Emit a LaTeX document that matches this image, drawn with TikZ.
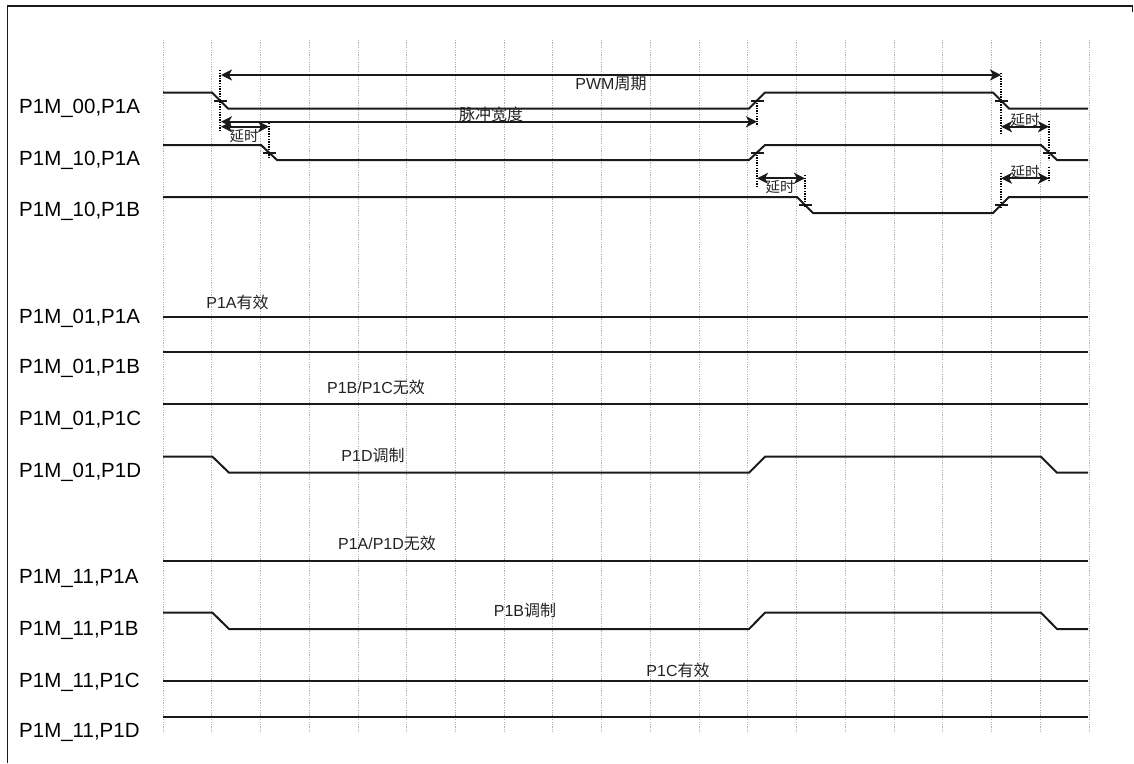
\documentclass[tikz,border=0pt]{standalone}
\usepackage{fontspec}
\setmainfont{Liberation Sans}
\newfontfamily\cjk{Noto Sans CJK SC}
\usetikzlibrary{arrows.meta}
\definecolor{sig}{HTML}{1A1A1A}
\definecolor{gridc}{HTML}{B4B4B4}
\definecolor{txt}{HTML}{222222}
\begin{document}
\begin{tikzpicture}[x=1pt,y=-1pt,
  wave/.style={draw=sig,line width=2pt,line join=miter},
  gridline/.style={draw=gridc,line width=0.9pt,dash pattern=on 1.2pt off 1.2pt},
  marker/.style={draw=black,line width=1.6pt,dash pattern=on 1.4pt off 1.2pt},
  tickmark/.style={draw=sig,line width=2pt},
  dim/.style={draw=sig,line width=2pt,{Stealth[length=11pt,width=11pt,inset=3pt]}-{Stealth[length=11pt,width=11pt,inset=3pt]}},
  rowlabel/.style={anchor=base west,inner sep=0pt,font=\fontsize{20.5}{24}\selectfont},
  inlabel/.style={inner sep=0pt,text=txt,font=\fontsize{16}{19}\selectfont},
  delaylabel/.style={inner sep=0pt,text=txt,font=\cjk\fontsize{14.5}{16}\selectfont}]
\useasboundingbox (0,0) rectangle (1134,763);
% grid
\foreach \k in {0,...,19}
  \draw[gridline] ({163+48.74*\k},40) -- ({163+48.74*\k},732);
% frame
\draw[line width=1.5pt,sig] (7.5,763) -- (7.5,6) -- (1132.5,6) -- (1132.5,12);
% row labels
\node[rowlabel] (l1) at (19,113) {P1M\_00,P1A};
\node[rowlabel] (l2) at (19,165) {P1M\_10,P1A};
\node[rowlabel] (l3) at (19,216.5) {P1M\_10,P1B};
\node[rowlabel] (l4) at (19,323.5) {P1M\_01,P1A};
\node[rowlabel] (l5) at (19,373.5) {P1M\_01,P1B};
\node[rowlabel] (l6) at (19,425.5) {P1M\_01,P1C};
\node[rowlabel] (l7) at (19,477.5) {P1M\_01,P1D};
\node[rowlabel] (l8) at (19,583.5) {P1M\_11,P1A};
\node[rowlabel] (l9) at (19,635.5) {P1M\_11,P1B};
\node[rowlabel] (l10) at (19,687) {P1M\_11,P1C};
\node[rowlabel] (l11) at (19,737.5) {P1M\_11,P1D};
% waveforms
\draw[wave] (163,92.5) -- (212,92.5) -- (228,108.5) -- (749,108.5) -- (765,92.5) -- (993,92.5) -- (1009,108.5) -- (1088,108.5);
\draw[wave] (163,145) -- (261,145) -- (277,160) -- (749,160) -- (765,145) -- (1041,145) -- (1057,160) -- (1088,160);
\draw[wave] (163,197) -- (797,197) -- (813,213) -- (993,213) -- (1009,197) -- (1088,197);
\draw[wave] (163,316.7) -- (1088,316.7);
\draw[wave] (163,352.3) -- (1088,352.3);
\draw[wave] (163,404.3) -- (1088,404.3);
\draw[wave] (163,456.7) -- (212.5,456.7) -- (229,472.7) -- (749,472.7) -- (765,456.7) -- (1041,456.7) -- (1057,472.7) -- (1088,472.7);
\draw[wave] (163,561) -- (1088,561);
\draw[wave] (163,612.7) -- (212.5,612.7) -- (229,629) -- (749,629) -- (765,612.7) -- (1041,612.7) -- (1057,629) -- (1088,629);
\draw[wave] (163,680.7) -- (1088,680.7);
\draw[wave] (163,716.7) -- (1088,716.7);
% edge ticks
\foreach \mx/\my in {220/100.5, 757/100.5, 1001/100.5, 269/152.5, 757/152.5, 1049/152.5, 805/205, 1001/205}
  \draw[tickmark] ({\mx-6},\my) -- ({\mx+7},\my);
% dotted markers
\draw[marker] (220,70) -- (220,132);
\draw[marker] (269,123) -- (269,157);
\draw[marker] (757,100) -- (757,126);
\draw[marker] (1001,73) -- (1001,135);
\draw[marker] (1049,121) -- (1049,160);
\draw[marker] (757,152) -- (757,187);
\draw[marker] (805,175) -- (805,207);
\draw[marker] (1001,173) -- (1001,207);
\draw[marker] (1049,167) -- (1049,182);
% dimension arrows
\coordinate (pwmL) at (221,75);   \coordinate (pwmR) at (1001,75);
\coordinate (pwL) at (221,121.7); \coordinate (pwR) at (757,121.7);
\coordinate (d1L) at (221,126.7); \coordinate (d1R) at (269,126.7);
\coordinate (d2L) at (757,178.3); \coordinate (d2R) at (805,178.3);
\coordinate (d3L) at (1001,126.7); \coordinate (d3R) at (1049,126.7);
\coordinate (d4L) at (1001,178.3); \coordinate (d4R) at (1049,178.3);
\draw[dim] (pwmL) -- (pwmR);
\draw[dim] (pwL) -- (pwR);
\draw[dim] (d1L) -- (d1R);
\draw[dim] (d2L) -- (d2R);
\draw[dim] (d3L) -- (d3R);
\draw[dim] (d4L) -- (d4R);
% labels
\node[inlabel] (pwm) at (611,83.5) {PWM{\cjk 周期}};
\node[inlabel,font=\cjk\fontsize{16}{19}\selectfont] (pw) at (491,114) {脉冲宽度};
\node[delaylabel] (dl1) at (244,136) {延时};
\node[delaylabel] (dl2) at (780,187) {延时};
\node[delaylabel] (dl3) at (1025,120) {延时};
\node[delaylabel] (dl4) at (1025,172) {延时};
\node[inlabel] (t1) at (237.5,302) {P1A{\cjk 有效}};
\node[inlabel] (t2) at (376,387.5) {P1B/P1C{\cjk 无效}};
\node[inlabel] (t3) at (373,455) {P1D{\cjk 调制}};
\node[inlabel] (t4) at (387,543.5) {P1A/P1D{\cjk 无效}};
\node[inlabel] (t5) at (525,610) {P1B{\cjk 调制}};
\node[inlabel] (t6) at (678,670) {P1C{\cjk 有效}};
\end{tikzpicture}
\end{document}
